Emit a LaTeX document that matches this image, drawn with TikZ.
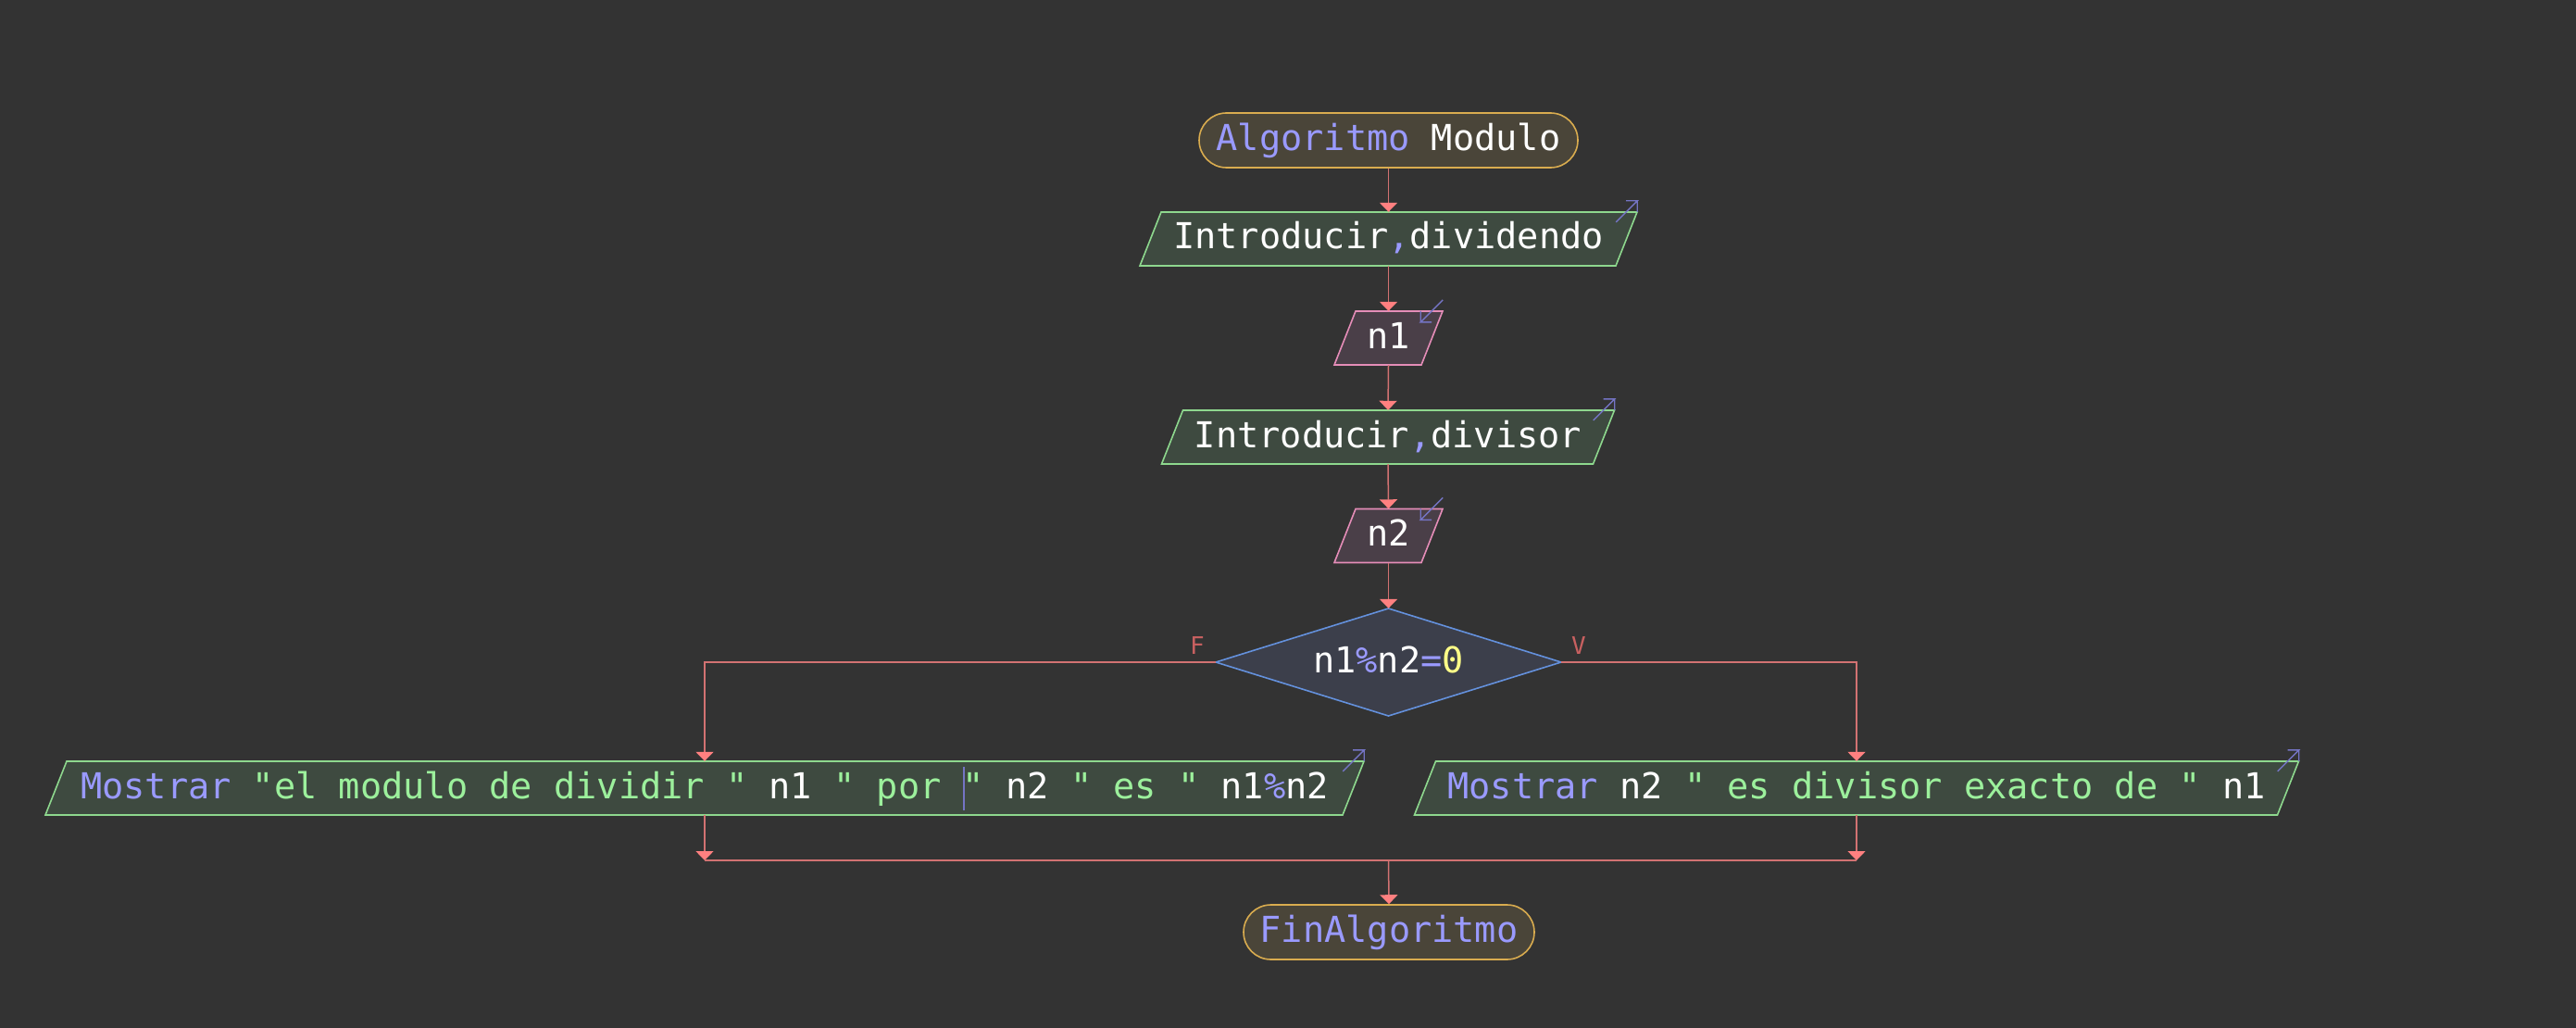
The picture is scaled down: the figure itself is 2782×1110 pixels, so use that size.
\documentclass[tikz,border=0pt]{standalone}
\usepackage{fontspec}
\newfontfamily\codefont{DejaVu Sans Mono}
\usetikzlibrary{arrows.meta}

\definecolor{canvas}{HTML}{333333}
\definecolor{wire}{HTML}{D27272}
\definecolor{wiretip}{HTML}{FF8080}
\definecolor{termfill}{HTML}{4A4539}
\definecolor{termline}{HTML}{D9AC4F}
\definecolor{iofill}{HTML}{3E4A40}
\definecolor{ioline}{HTML}{8ED88E}
\definecolor{varfill}{HTML}{4A3F48}
\definecolor{varline}{HTML}{E58DB8}
\definecolor{condfill}{HTML}{3C3F4B}
\definecolor{condline}{HTML}{6491DD}
\definecolor{kw}{HTML}{9A9AFF}
\definecolor{str}{HTML}{9CF09C}
\definecolor{num}{HTML}{FFFF88}
\definecolor{lbl}{HTML}{C86060}
\definecolor{markc}{HTML}{7474C4}

% parallelogram frame plus a named node carrying its text
% #1 name, #2 centre x, #3 centre y, #4 half length of top edge, #5 frame style, #6 text
\newcommand\slantbox[6]{%
  \path[#5] ({#2-#4+11.5},{#3-29}) -- ({#2+#4+11.5},{#3-29})
        -- ({#2+#4-11.5},{#3+29}) -- ({#2-#4-11.5},{#3+29}) -- cycle;
  \node[boxtext, minimum width={2*#4}, minimum height=58] (#1) at (#2,#3) {#6};
}
% small arrow leaving the upper right corner (input / output boxes)
\newcommand\outmark[1]{%
  \draw[iconline] ([shift={(-11.5,11)}]#1.north east) -- ++(23,-23) -- ++(-12,0) ++(12,0) -- ++(0,12);
}
% small arrow entering the upper right corner (variable boxes)
\newcommand\inmark[1]{%
  \draw[iconline] ([shift={(11.5,-12)}]#1.north east) -- ++(-24,24) -- ++(12,0) ++(-12,0) -- ++(0,-12);
}

\begin{document}
\begin{tikzpicture}[x=1pt,y=-1pt,
  boxtext/.style={rectangle, inner sep=0pt, text height=30pt, text depth=8pt,
    font=\codefont\fontsize{38.6}{46}\selectfont, text=white},
  term/.style={boxtext, rounded corners=29.5pt, fill=termfill, draw=termline, line width=1.6pt},
  ioframe/.style={fill=iofill, draw=ioline, line width=1.6pt},
  varframe/.style={fill=varfill, draw=varline, line width=1.6pt},
  condframe/.style={fill=condfill, draw=condline, line width=1.6pt},
  iconline/.style={draw=markc, line width=1.4pt},
  flow/.style={draw=wire, line width=1.5pt,
    -{Triangle[width=19pt,length=10pt,color=wiretip,fill=wiretip]}},
  joinline/.style={draw=wire, line width=2pt},
  flag/.style={text=lbl, inner sep=0pt, font=\codefont\fontsize{26}{30}\selectfont}
]
\fill[canvas] (0,0) rectangle (2782,1110);
\useasboundingbox (0,0) rectangle (2782,1110);

% start / end
\node[term, minimum width=409, minimum height=59] (start) at (1499.5,151.5)
  {\textcolor{kw}{Algoritmo} Modulo};
\node[term, minimum width=314, minimum height=59] (fin) at (1500,1006.5)
  {\textcolor{kw}{FinAlgoritmo}};

% reading the operands
\slantbox{din1}{1499.5}{258}{257}{ioframe}{Introducir\textcolor{kw}{,}dividendo}
\slantbox{v1}{1499.5}{365}{47}{varframe}{n1}
\slantbox{din2}{1499}{472}{233}{ioframe}{Introducir\textcolor{kw}{,}divisor}
\slantbox{v2}{1499.5}{578.5}{47}{varframe}{n2}

% condition
\path[condframe] (1499.5,657) -- (1686,715) -- (1499.5,773) -- (1313,715) -- cycle;
\node[boxtext, minimum width=373, minimum height=116] (test) at (1499.5,715)
  {n1\textcolor{kw}{\%}n2\textcolor{kw}{=}\textcolor{num}{0}};
\node[flag] (lf) at (1293,697) {F};
\node[flag] (lv) at (1705,697) {V};

% outputs
\slantbox{outl}{761}{851}{700.5}{ioframe}
  {\textcolor{kw}{Mostrar} \textcolor{str}{"el modulo de dividir "} n1 \textcolor{str}{" por "} n2 \textcolor{str}{" es "} n1\textcolor{kw}{\%}n2}
\slantbox{outr}{2005}{851}{466}{ioframe}
  {\textcolor{kw}{Mostrar} n2 \textcolor{str}{" es divisor exacto de "} n1}
\draw[draw=markc, line width=1.6pt] (1041,828) -- (1041,875);

% corner marks
\outmark{din1}
\outmark{din2}
\inmark{v1}
\inmark{v2}
\outmark{outl}
\outmark{outr}

% connectors
\coordinate (jl) at (761,929);
\coordinate (jr) at (2005,929);
\coordinate (jc) at (1499.5,929);
\draw[flow] (start.south) -- (din1.north);
\draw[flow] (din1.south) -- (v1.north);
\draw[flow] (v1.south) -- (din2.north);
\draw[flow] (din2.south) -- (v2.north);
\draw[flow] (v2.south) -- (test.north);
\draw[flow] (test.west) -| (outl.north);
\draw[flow] (test.east) -| (outr.north);
\draw[flow] (outl.south) -- (jl);
\draw[flow] (outr.south) -- (jr);
\draw[joinline] (jl) -- (jr);
\draw[flow] (jc) -- (fin.north);
\end{tikzpicture}
\end{document}
